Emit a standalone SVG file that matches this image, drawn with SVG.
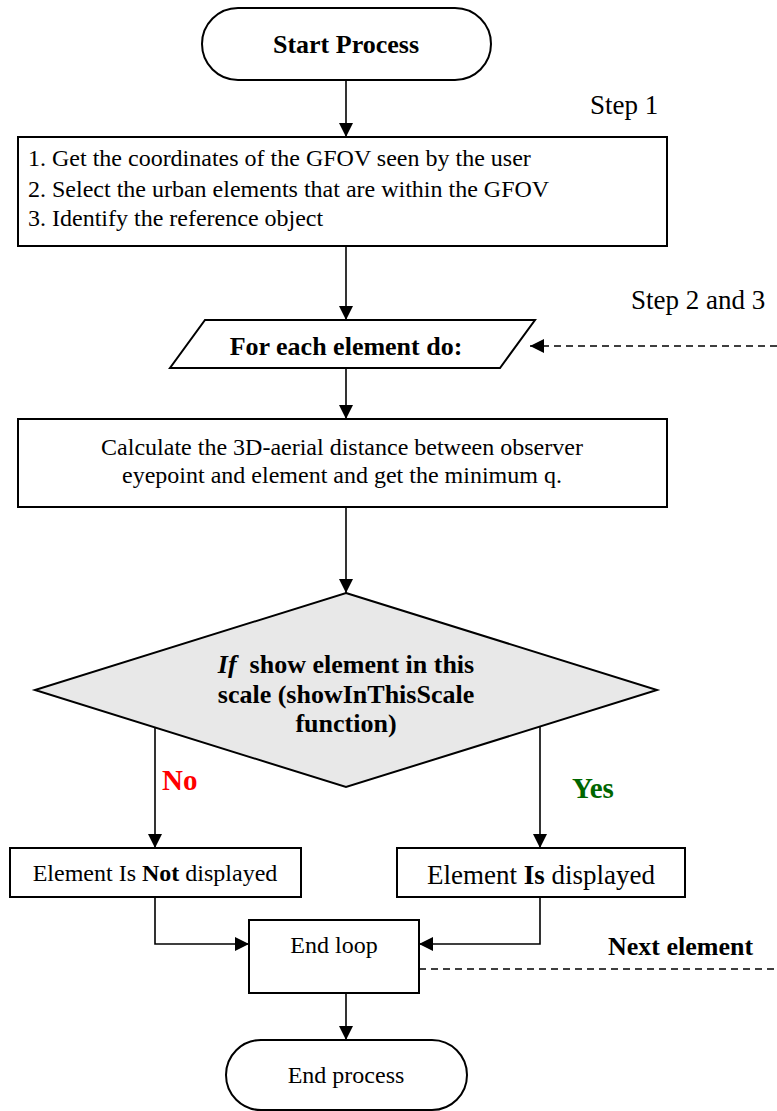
<svg xmlns="http://www.w3.org/2000/svg" width="777" height="1111" viewBox="0 0 777 1111">
<defs>
<marker id="ah" markerUnits="userSpaceOnUse" markerWidth="16" markerHeight="14" refX="14" refY="7" orient="auto">
<path d="M0,0 L14,7 L0,14 Z" fill="#000"/>
</marker>
<style>
.shape{fill:#fff;stroke:#000;stroke-width:2}
.dia{fill:#e8e8e8;stroke:#000;stroke-width:2}
.con{fill:none;stroke:#000;stroke-width:1.6}
.dash{fill:none;stroke:#000;stroke-width:1.6;stroke-dasharray:7,5}
.t{font-family:"Liberation Serif","Times New Roman",serif;fill:#000}
.f24{font-size:24px}
.f26{font-size:26px}
.f27{font-size:27px}
.f29{font-size:29px}
.b{font-weight:bold}
.c{text-anchor:middle}
.red{fill:#ff0000}
.green{fill:#006600}
</style>
</defs>
<rect width="777" height="1111" fill="#fff"/>

<g id="connectors">
<line class="con" x1="346" y1="80" x2="346" y2="137" marker-end="url(#ah)"/>
<line class="con" x1="346" y1="246" x2="346" y2="320" marker-end="url(#ah)"/>
<line class="con" x1="346" y1="368" x2="346" y2="419" marker-end="url(#ah)"/>
<line class="con" x1="346" y1="507" x2="346" y2="593" marker-end="url(#ah)"/>
<line class="con" x1="155" y1="727" x2="155" y2="848" marker-end="url(#ah)"/>
<line class="con" x1="540" y1="727" x2="540" y2="848" marker-end="url(#ah)"/>
<polyline class="con" points="155,897 155,944 249,944" marker-end="url(#ah)"/>
<polyline class="con" points="540,897 540,944 419,944" marker-end="url(#ah)"/>
<line class="con" x1="346" y1="993" x2="346" y2="1040" marker-end="url(#ah)"/>
<line class="dash" x1="777" y1="346" x2="530" y2="346" marker-end="url(#ah)"/>
<line class="dash" x1="419" y1="969" x2="777" y2="969"/>
</g>

<g id="start">
<rect class="shape" x="202" y="8" width="289" height="72" rx="36" ry="36"/>
<text class="t f26 b c" x="346" y="53">Start Process</text>
</g>

<g id="step1-label">
<text class="t f27" x="590" y="114">Step 1</text>
</g>

<g id="step1">
<rect class="shape" x="18" y="137" width="649" height="109"/>
<text class="t f24" x="28" y="166">1. Get the coordinates of the GFOV seen by the user</text>
<text class="t f24" x="28" y="197">2. Select the urban elements that are within the GFOV</text>
<text class="t f24" x="28" y="226">3. Identify the reference object</text>
</g>

<g id="step23-label">
<text class="t f27" x="631" y="309">Step 2 and 3</text>
</g>

<g id="foreach">
<polygon class="shape" points="205,320 535,320 500,368 170,368"/>
<text class="t f26 b c" x="346" y="355">For each element do:</text>
</g>

<g id="calc">
<rect class="shape" x="18" y="419" width="649" height="88"/>
<text class="t f24 c" x="342" y="455">Calculate the 3D-aerial distance between observer</text>
<text class="t f24 c" x="342" y="483">eyepoint and element and get the minimum q.</text>
</g>

<g id="decision">
<polygon class="dia" points="346,593 657,690 346,787 35,690"/>
<text class="t f26 b c" x="346" y="673"><tspan font-style="italic">If</tspan>&#160; show element in this</text>
<text class="t f26 b c" x="346" y="703">scale (showInThisScale</text>
<text class="t f26 b c" x="346" y="732">function)</text>
</g>

<g id="labels">
<text class="t f29 b red" x="162" y="790">No</text>
<text class="t f29 b green" x="572" y="798">Yes</text>
</g>

<g id="not-displayed">
<rect class="shape" x="10" y="848" width="291" height="49"/>
<text class="t f24 c" x="155" y="881">Element Is <tspan class="b">Not</tspan> displayed</text>
</g>

<g id="displayed">
<rect class="shape" x="397" y="848" width="288" height="49"/>
<text class="t f27 c" x="541" y="884">Element <tspan class="b">Is</tspan> displayed</text>
</g>

<g id="endloop">
<rect class="shape" x="249" y="920" width="170" height="73"/>
<text class="t f24 c" x="334" y="953">End loop</text>
</g>

<g id="next-label">
<text class="t f26 b" x="608" y="955">Next element</text>
</g>

<g id="end">
<rect class="shape" x="226" y="1040" width="241" height="70" rx="35" ry="35"/>
<text class="t f24 c" x="346" y="1083">End process</text>
</g>
</svg>
